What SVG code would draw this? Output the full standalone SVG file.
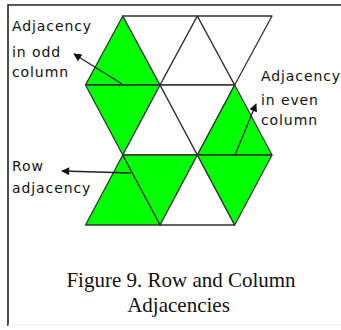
<svg xmlns="http://www.w3.org/2000/svg" width="341" height="330" viewBox="0 0 341 330">
<defs>
<style>
.frame{stroke:#222;stroke-width:1.6;fill:none}
.tri{stroke:#333;stroke-width:1.3;stroke-linejoin:round}
.g{fill:#00ff00}
.w{fill:#ffffff}
.lbl{font-family:"DejaVu Sans",Verdana,sans-serif;font-size:14px;letter-spacing:0.9px;fill:#111}
.cap{font-family:"Liberation Serif","Times New Roman",serif;font-size:21px;fill:#111;text-anchor:middle}
.arr{stroke:#222;stroke-width:1.3;fill:none;marker-end:url(#ah)}
</style>
<marker id="ah" viewBox="0 0 10 10" refX="9" refY="5" markerWidth="10" markerHeight="8" markerUnits="userSpaceOnUse" orient="auto">
<path d="M0,0 L10,5 L0,10 z" fill="#111"/>
</marker>
</defs>
<rect width="341" height="330" fill="#ffffff"/>
<g id="frame">
<path class="frame" d="M8,326 V5 H341"/>
<path d="M8,325 H341" stroke="#ececec" stroke-width="1" fill="none"/>
</g>
<g id="grid">
<g id="t1"><polygon class="tri g" points="85.5,85 122.8,16 160.1,85"/></g>
<g id="t2"><polygon class="tri w" points="122.8,16 197.4,16 160.1,85"/></g>
<g id="t3"><polygon class="tri w" points="160.1,85 197.4,16 234.7,85"/></g>
<g id="t4"><polygon class="tri w" points="197.4,16 272,16 234.7,85"/></g>
<g id="t5"><polygon class="tri g" points="85.5,85 160.1,85 122.8,155"/></g>
<g id="t6"><polygon class="tri w" points="122.8,155 160.1,85 197.4,155"/></g>
<g id="t7"><polygon class="tri w" points="160.1,85 234.7,85 197.4,155"/></g>
<g id="t8"><polygon class="tri g" points="197.4,155 234.7,85 272,155"/></g>
<g id="t9"><polygon class="tri g" points="85.5,225 122.8,155 160.1,225"/></g>
<g id="t10"><polygon class="tri g" points="122.8,155 197.4,155 160.1,225"/></g>
<g id="t11"><polygon class="tri w" points="160.1,225 197.4,155 234.7,225"/></g>
<g id="t12"><polygon class="tri g" points="197.4,155 272,155 234.7,225"/></g>
</g>
<g id="connectors">
<line class="arr" x1="122" y1="84" x2="74" y2="54"/>
<line class="arr" x1="235" y1="155" x2="256" y2="104"/>
<line class="arr" x1="131" y1="173" x2="62" y2="171"/>
</g>
<g id="label-odd">
<text class="lbl" x="12" y="31">Adjacency</text>
<text class="lbl" x="12" y="56.5">in odd</text>
<text class="lbl" x="12" y="76.5">column</text>
</g>
<g id="label-even">
<text class="lbl" x="261" y="81">Adjacency</text>
<text class="lbl" x="261" y="105">in even</text>
<text class="lbl" x="261" y="125">column</text>
</g>
<g id="label-row">
<text class="lbl" x="12" y="171">Row</text>
<text class="lbl" x="12" y="192.5">adjacency</text>
</g>
<g id="caption">
<text class="cap" x="181" y="287">Figure 9. Row and Column</text>
<text class="cap" x="178.5" y="312">Adjacencies</text>
</g>
</svg>
